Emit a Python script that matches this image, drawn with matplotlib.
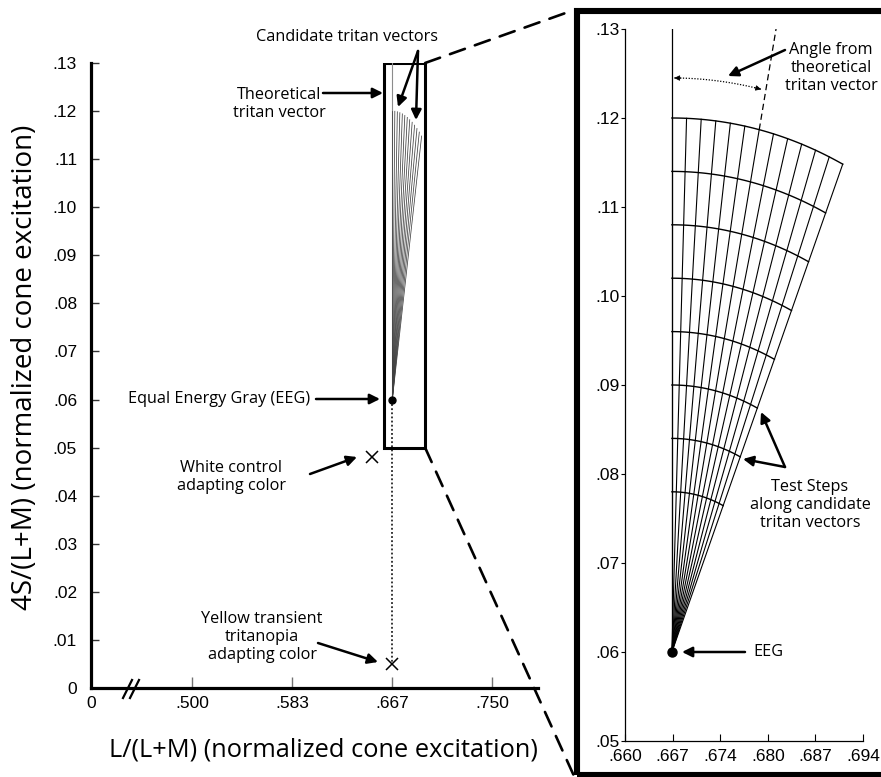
import numpy as np
import matplotlib
matplotlib.use('Agg')
import matplotlib.pyplot as plt
from matplotlib.patches import Rectangle, ConnectionPatch

# ---- values ----
eeg = (0.6667, 0.06)                 # equal energy gray
white_control = (0.65, 0.048)
yellow_transient = (0.6667, 0.005)
zoom_x = (0.660, 0.694)
zoom_y = (0.05, 0.13)

candidate_angles = [0, 2, 4, 6, 8, 10, 12, 14, 16, 18, 20, 22, 24]   # deg from theoretical
vector_length = 0.06
step_radii = [0.018, 0.024, 0.030, 0.036, 0.042, 0.048, 0.054, 0.060]
demo_angle = 12          # candidate drawn dashed in the inset
demo_arc_radius = 0.0645

left_xticks = [0, 0.5, 0.5833, 0.6667, 0.75]
left_xlabels = ['0', '.500', '.583', '.667', '.750']
left_yticks = [0, 0.01, 0.02, 0.03, 0.04, 0.05, 0.06, 0.07, 0.08, 0.09, 0.10, 0.11, 0.12, 0.13]
left_ylabels = ['0', '.01', '.02', '.03', '.04', '.05', '.06', '.07', '.08', '.09', '.10', '.11', '.12', '.13']
inset_xticks = [0.660, 0.6668, 0.6736, 0.6804, 0.6872, 0.694]
inset_xlabels = ['.660', '.667', '.674', '.680', '.687', '.694']
inset_yticks = [0.05, 0.06, 0.07, 0.08, 0.09, 0.10, 0.11, 0.12, 0.13]
inset_ylabels = ['.05', '.06', '.07', '.08', '.09', '.10', '.11', '.12', '.13']

W, H = 881, 777
TXT = ['Open Sans', 'DejaVu Sans']
TICK = ['Liberation Sans', 'DejaVu Sans']
TS = 11.7


def fwd(v):
    v = np.asarray(v, dtype=float)
    return np.where(v <= 0.5, v * 2.02, 1.01 + (v - 0.5) * 12.0)


def inv(u):
    u = np.asarray(u, dtype=float)
    return np.where(u <= 1.01, u / 2.02, 0.5 + (u - 1.01) / 12.0)


def vec_end(a, r):
    t = np.radians(a)
    return eeg[0] + r * np.sin(t), eeg[1] + r * np.cos(t)


fig = plt.figure(figsize=(W / 100, H / 100), dpi=100)

# ---------------- left overview ----------------
ax = fig.add_axes([91 / W, (H - 688) / H, (538 - 91) / W, (688 - 63) / H])
ax.set_xscale('function', functions=(fwd, inv))
ax.set_xlim(0, 0.788)
ax.set_ylim(0, 0.13)
for s in ['top', 'right']:
    ax.spines[s].set_visible(False)
for s in ['left', 'bottom']:
    ax.spines[s].set_linewidth(2.3)
ax.set_xticks(left_xticks)
ax.set_xticklabels(left_xlabels, family=TICK, fontsize=12.5)
ax.set_yticks(left_yticks)
ax.set_yticklabels(left_ylabels, family=TICK, fontsize=12.5)
ax.xaxis.set_minor_locator(matplotlib.ticker.NullLocator())
ax.tick_params(axis='x', direction='in', length=8, width=1, color='0.45', pad=6)
ax.tick_params(axis='y', direction='in', length=6, width=1, color='0.2', pad=10)

ax.plot([eeg[0], eeg[0]], [eeg[1], zoom_y[1]], color='0.55', lw=0.8)
for a in candidate_angles:
    ex, ey = vec_end(a, vector_length)
    ax.plot([eeg[0], ex], [eeg[1], ey], color='0.25', lw=0.55)
ax.plot([eeg[0], yellow_transient[0]], [eeg[1], yellow_transient[1]],
        color='black', lw=1.1, linestyle=(0, (1.2, 1.5)))
ax.plot(*eeg, 'o', color='black', ms=5)
ax.plot(*white_control, 'x', color='black', ms=9, mew=1.1)
ax.plot(*yellow_transient, 'x', color='black', ms=9, mew=1.1)
ax.add_patch(Rectangle((zoom_x[0], zoom_y[0]), zoom_x[1] - zoom_x[0],
                       zoom_y[1] - zoom_y[0], fill=False, lw=2.2, ec='black'))

# axis break marks
for dx in [0, 7]:
    ax.plot([(123 + dx) / W, (132 + dx) / W], [(H - 698) / H, (H - 680) / H],
            transform=fig.transFigure, color='black', lw=1.6, clip_on=False)

ax.set_xlabel('L/(L+M) (normalized cone excitation)', family=TXT, fontsize=18.3)
ax.xaxis.set_label_coords(323 / W, (H - 750) / H, transform=fig.transFigure)
ax.set_ylabel('4S/(L+M) (normalized cone excitation)', family=TXT, fontsize=20)
ax.yaxis.set_label_coords(25 / W, (H - 367) / H, transform=fig.transFigure)
ax.xaxis.label.set_va('center')
ax.yaxis.label.set_va('center')

arrow = dict(arrowstyle='-|>', lw=1.8, color='black', mutation_scale=15,
             shrinkA=0, shrinkB=0)


def note(text, xy_tip, xy_text, ha='center', start=None):
    fig.text(*[xy_text[0] / W, (H - xy_text[1]) / H], text, family=TXT, fontsize=TS,
             ha=ha, va='center', linespacing=1.15)
    if start is not None:
        fig.add_artist(matplotlib.patches.FancyArrowPatch(
            (start[0] / W, (H - start[1]) / H), (xy_tip[0] / W, (H - xy_tip[1]) / H),
            transform=fig.transFigure, **arrow))


note('Candidate tritan vectors', (398, 107), (347, 37), start=(418, 51))
note('', (416, 120), (0, 0), start=(418, 51))
note('Theoretical\ntritan vector', (383, 93), (279, 104), start=(323, 93))
note('Equal Energy Gray (EEG)', (380, 399), (219, 399), start=(316, 399))
note('White control\nadapting color', (357, 457), (231, 477), start=(310, 474))
note('Yellow transient\ntritanopia\nadapting color', (378, 662), (262, 637), start=(318, 643))

# ---------------- inset ----------------
ai = fig.add_axes([625 / W, (H - 741) / H, (863 - 625) / W, (741 - 29) / H])
ai.set_xlim(*zoom_x)
ai.set_ylim(*zoom_y)
for s in ['top', 'right']:
    ai.spines[s].set_visible(False)
for s in ['left', 'bottom']:
    ai.spines[s].set_linewidth(0.9)
ai.set_xticks(inset_xticks)
ai.set_xticklabels(inset_xlabels, family=TICK, fontsize=12.5)
ai.set_yticks(inset_yticks)
ai.set_yticklabels(inset_ylabels, family=TICK, fontsize=12.5)
ai.tick_params(axis='x', direction='in', length=5, width=0.8, pad=6)
ai.tick_params(axis='y', direction='out', length=3, width=0.8, pad=1)

ai.plot([eeg[0], eeg[0]], [eeg[1], zoom_y[1]], color='black', lw=0.9)
for a in candidate_angles:
    ex, ey = vec_end(a, vector_length)
    ai.plot([eeg[0], ex], [eeg[1], ey], color='black', lw=0.8)
th = np.radians(np.linspace(candidate_angles[0], candidate_angles[-1], 80))
for r in step_radii:
    ai.plot(eeg[0] + r * np.sin(th), eeg[1] + r * np.cos(th), color='black', lw=1.0)
# dashed extension of one candidate to the top of the inset
t = np.radians(demo_angle)
r_top = (zoom_y[1] - eeg[1]) / np.cos(t)
ai.plot([vec_end(demo_angle, vector_length)[0], vec_end(demo_angle, r_top)[0]],
        [vec_end(demo_angle, vector_length)[1], vec_end(demo_angle, r_top)[1]],
        color='black', lw=0.9, linestyle=(0, (5, 3)))
# dotted angle arc with heads at both ends
ta = np.radians(np.linspace(0.3, demo_angle - 0.6, 40))
ai.plot(eeg[0] + demo_arc_radius * np.sin(ta), eeg[1] + demo_arc_radius * np.cos(ta),
        color='black', lw=0.9, linestyle=(0, (1, 1.3)))
for i0, i1 in [(3, 0), (-4, -1)]:
    ai.annotate('', xy=(eeg[0] + demo_arc_radius * np.sin(ta[i1]),
                        eeg[1] + demo_arc_radius * np.cos(ta[i1])),
                xytext=(eeg[0] + demo_arc_radius * np.sin(ta[i0]),
                        eeg[1] + demo_arc_radius * np.cos(ta[i0])),
                arrowprops=dict(arrowstyle='-|>', lw=0.6, color='black',
                                mutation_scale=8, shrinkA=0, shrinkB=0))
ai.plot(*eeg, 'o', color='black', ms=6.5)

note('Angle from\ntheoretical\ntritan vector', (728, 76), (831, 68), start=(785, 50))
note('Test Steps\nalong candidate\ntritan vectors', (761, 412), (810, 505), start=(785, 467))
note('', (743, 459), (0, 0), start=(785, 467))
note('EEG', (682, 652), (753, 652), ha='left', start=(745, 652))

# frame around the inset and the dashed zoom lines
fx0, fy0 = 576.5 / W, (H - 775) / H
fig.add_artist(Rectangle((fx0, fy0), 1.02 - fx0, (H - 11) / H - fy0,
                         transform=fig.transFigure, fill=False, lw=4.4, ec='black'))
for yd, yf in [(zoom_y[1], (H - 10) / H), (zoom_y[0], (H - 776) / H)]:
    fig.add_artist(ConnectionPatch(xyA=(zoom_x[1], yd), coordsA=ax.transData,
                                   xyB=(574 / W, yf), coordsB=fig.transFigure,
                                   color='black', lw=1.9, linestyle=(0, (6, 4))))

fig.savefig('out.png', dpi=100)
